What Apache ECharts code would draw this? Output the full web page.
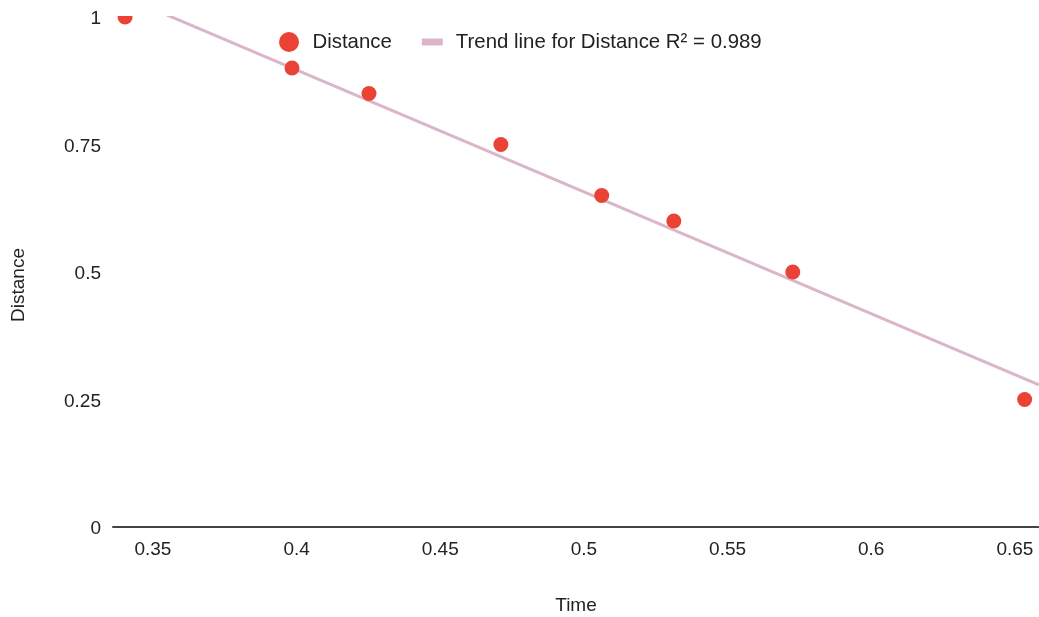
<!DOCTYPE html>
<html>
<head>
<meta charset="utf-8">
<script src="https://cdn.jsdelivr.net/npm/echarts@6/dist/echarts.min.js"></script>
<style>
html,body{margin:0;padding:0;background:#fff;}
#chart{width:1039px;height:617px;}
</style>
</head>
<body>
<div id="chart"></div>
<script>
// Data
const timeValues = [0.3403, 0.3984, 0.4252, 0.4711, 0.5062, 0.5313, 0.5727, 0.6534];
const distanceValues = [1, 0.9, 0.85, 0.75, 0.65, 0.6, 0.5, 0.25];
const yTickLabels = ['0', '0.25', '0.5', '0.75', '1'];
const seriesName = 'Distance';
const trendName = 'Trend line for Distance R\u00B2 = 0.989';
const xAxisName = 'Time';
const yAxisName = 'Distance';

const X_MIN = 0.3361, X_MAX = 0.6584;

// Linear least-squares trend line from the data
const n = timeValues.length;
const mx = timeValues.reduce((a, b) => a + b, 0) / n;
const my = distanceValues.reduce((a, b) => a + b, 0) / n;
let sxy = 0, sxx = 0;
for (let i = 0; i < n; i++) {
  sxy += (timeValues[i] - mx) * (distanceValues[i] - my);
  sxx += (timeValues[i] - mx) * (timeValues[i] - mx);
}
const slope = sxy / sxx;
const intercept = my - slope * mx;
const trendData = [[X_MIN, intercept + slope * X_MIN], [X_MAX, intercept + slope * X_MAX]];

const FONT = 'Liberation Sans, Arial, sans-serif';
const chart = echarts.init(document.getElementById('chart'));
chart.setOption({
  animation: false,
  backgroundColor: '#ffffff',
  textStyle: { fontFamily: FONT },
  grid: { left: 113, right: 0, top: 17, bottom: 90, containLabel: false, outerBoundsMode: 'none' },
  legend: {
    left: 274, top: 27,
    itemWidth: 21, itemHeight: 20, itemGap: 30,
    textStyle: { fontSize: 20.4, color: '#222', fontFamily: FONT, padding: [0, 0, 0, 8] },
    data: [
      { name: seriesName, icon: 'circle' },
      { name: trendName, icon: 'path://M0,0 H21 V7 H0 Z' }
    ]
  },
  xAxis: {
    type: 'value',
    min: X_MIN, max: X_MAX,
    name: xAxisName, nameLocation: 'middle', nameGap: 69,
    nameTextStyle: { fontSize: 19, color: '#222', fontFamily: FONT },
    axisLine: { show: true, lineStyle: { color: '#444', width: 2 } },
    axisTick: { show: false },
    splitLine: { show: false },
    axisLabel: {
      fontSize: 19, color: '#222', margin: 13, fontFamily: FONT,
      showMinLabel: false, showMaxLabel: false,
      formatter: function (v) {
        const k = Math.round(v / 0.05);
        if (Math.abs(v - k * 0.05) > 1e-6) return '';
        return String(+(k * 0.05).toFixed(2));
      }
    }
  },
  yAxis: {
    type: 'value', min: 0, max: 1, interval: 0.25,
    axisLine: { show: false }, axisTick: { show: false }, splitLine: { show: false },
    axisLabel: {
      fontSize: 19, color: '#222', margin: 12, fontFamily: FONT,
      verticalAlign: 'top', lineHeight: 4,
      formatter: function (v) { return yTickLabels[Math.round(v / 0.25)]; }
    }
  },
  graphic: [
    {
      type: 'rect', z: 100, silent: true,
      shape: { x: 113, y: 0, width: 926, height: 16 },
      style: { fill: '#ffffff' }
    },
    {
      type: 'text', z: 100, silent: true,
      x: 19, y: 285, rotation: Math.PI / 2,
      style: {
        text: yAxisName, fill: '#222', font: '19px ' + FONT,
        align: 'center', verticalAlign: 'middle'
      }
    }
  ],
  series: [
    {
      name: trendName, type: 'line', data: trendData,
      showSymbol: false, symbol: 'none', clip: true,
      lineStyle: { color: '#dbb5c9', width: 3 },
      itemStyle: { color: '#dbb5c9' },
      z: 1
    },
    {
      name: seriesName, type: 'scatter',
      data: timeValues.map((t, i) => [t, distanceValues[i]]),
      symbolSize: 15, clip: false,
      itemStyle: { color: '#ea4335', opacity: 1 },
      z: 3
    }
  ]
});
</script>
</body>
</html>
